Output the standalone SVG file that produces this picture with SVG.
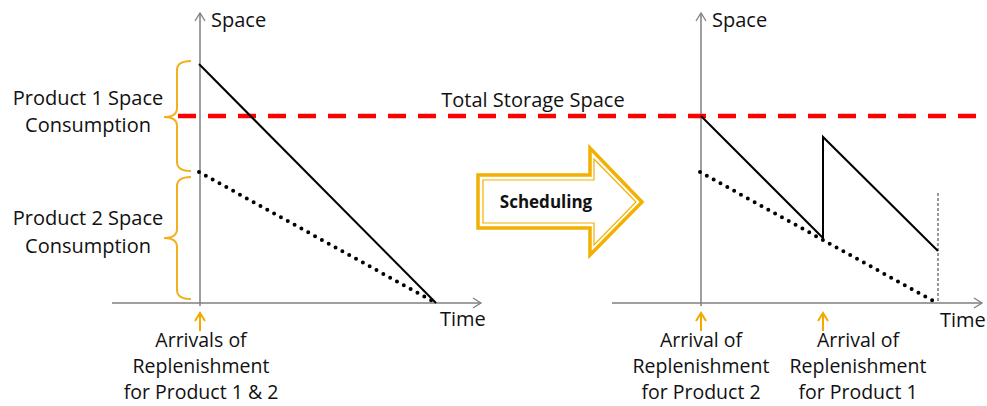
<svg xmlns="http://www.w3.org/2000/svg" width="987" height="406" viewBox="0 0 987 406">
<defs>
<style>
text{font-family:"Open Sans","Liberation Sans",sans-serif;font-size:20px;fill:#111;}
.c{text-anchor:middle;}
.b{font-size:19.5px;}
.axis{stroke:#7f7f7f;stroke-width:1.5;fill:none;}
.solid{stroke:#000;stroke-width:2;fill:none;}
.dot{stroke:#000;stroke-width:4;stroke-linecap:round;stroke-dasharray:0 7.8;fill:none;}
.brace{stroke:#F2B01E;stroke-width:2;fill:none;}
.oarrow{stroke:#F2AA00;stroke-width:2;fill:none;}
</style>
<marker id="ah" markerWidth="12" markerHeight="12" refX="10" refY="6" orient="auto" markerUnits="userSpaceOnUse">
<path d="M2,1 L10,6 L2,11" fill="none" stroke="#7f7f7f" stroke-width="1.3"/>
</marker>
<marker id="oh" markerWidth="14" markerHeight="12" refX="12" refY="6" orient="auto" markerUnits="userSpaceOnUse">
<path d="M4,1 L12,6 L4,11" fill="none" stroke="#F2AA00" stroke-width="2"/>
</marker>
</defs>

<g id="connectors">
<line class="axis" x1="200" y1="306" x2="200" y2="13" marker-end="url(#ah)"/>
<line class="axis" x1="112" y1="303" x2="481" y2="303" marker-end="url(#ah)"/>
<line class="axis" x1="701" y1="306" x2="701" y2="13" marker-end="url(#ah)"/>
<line class="axis" x1="612" y1="303" x2="982" y2="303" marker-end="url(#ah)"/>
<line x1="178" y1="116" x2="987" y2="116" stroke="#FF0000" stroke-width="4.5" stroke-dasharray="18 12"/>
<line class="solid" x1="199" y1="64" x2="436" y2="303"/>
<line class="dot" x1="199" y1="172" x2="436" y2="303"/>
<polyline class="solid" points="701,116 823,238 823,137 938,251"/>
<line class="dot" x1="700" y1="172" x2="937" y2="303"/>
<line x1="938" y1="193" x2="938" y2="303" stroke="#000" stroke-width="0.8" stroke-dasharray="3 2"/>
<line class="oarrow" x1="200" y1="331" x2="200" y2="313" marker-end="url(#oh)"/>
<line class="oarrow" x1="701" y1="331" x2="701" y2="313" marker-end="url(#oh)"/>
<line class="oarrow" x1="823" y1="331" x2="823" y2="313" marker-end="url(#oh)"/>
</g>

<g id="brace1">
<path class="brace" d="M191,61 Q177,61 177,70 L177,108 Q177,117 164,117 Q177,117 177,126 L177,162 Q177,171 191,171"/>
<text class="c" x="88" y="105">Product 1 Space</text>
<text class="c" x="88" y="132">Consumption</text>
</g>
<g id="brace2">
<path class="brace" d="M191,177 Q177,177 177,186 L177,229 Q177,238 164,238 Q177,238 177,247 L177,290 Q177,299 191,299"/>
<text class="c" x="88" y="225">Product 2 Space</text>
<text class="c" x="88" y="253">Consumption</text>
</g>

<g id="left-axis-labels">
<text x="211" y="27">Space</text>
<text x="440" y="326">Time</text>
</g>
<g id="right-axis-labels">
<text x="712" y="27">Space</text>
<text x="940" y="327">Time</text>
</g>

<g id="total-storage">
<text class="c" x="533" y="107">Total Storage Space</text>
</g>

<g id="scheduling">
<polygon points="478,175 590,175 590,148 642,202 590,255 590,228 478,228" fill="#fff" stroke="#F2B000" stroke-width="3.5" stroke-linejoin="miter"/>
<polygon points="483,180 594,180 594,159 636,202 594,245 594,223 483,223" fill="none" stroke="#F2B000" stroke-width="1.2"/>
<text class="c" x="546" y="208" style="font-weight:bold;font-size:17px">Scheduling</text>
</g>

<g id="arrival-left">
<text class="c b" x="201" y="347">Arrivals of</text>
<text class="c b" x="201" y="373">Replenishment</text>
<text class="c b" x="201" y="399">for Product 1 &amp; 2</text>
</g>
<g id="arrival-p2">
<text class="c b" x="701" y="347">Arrival of</text>
<text class="c b" x="701" y="373">Replenishment</text>
<text class="c b" x="701" y="399">for Product 2</text>
</g>
<g id="arrival-p1">
<text class="c b" x="858" y="347">Arrival of</text>
<text class="c b" x="858" y="373">Replenishment</text>
<text class="c b" x="858" y="399">for Product 1</text>
</g>
</svg>
